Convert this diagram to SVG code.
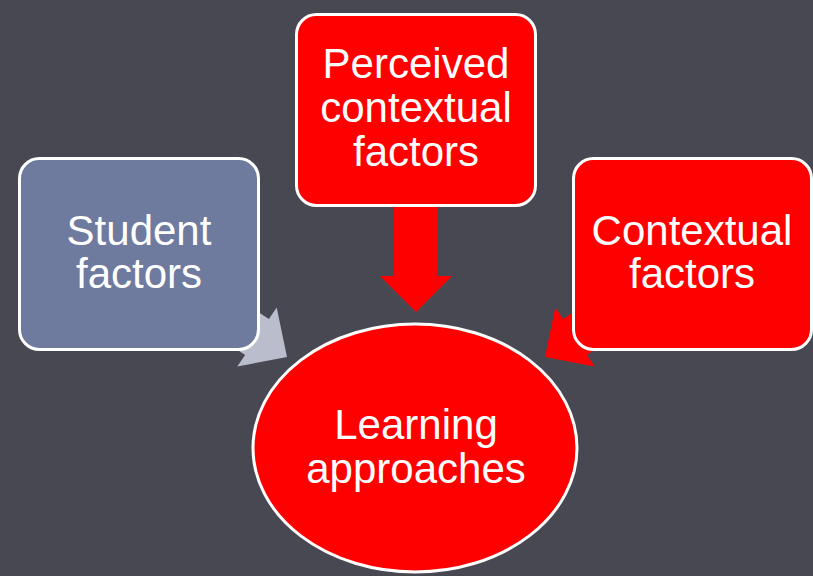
<svg xmlns="http://www.w3.org/2000/svg" width="813" height="576" viewBox="0 0 813 576">
<style>
.box{stroke:#ffffff;stroke-width:3}
.red{fill:#ff0000}
.blue{fill:#6f7a9f}
.lbl{font-family:"Liberation Sans",Arial,sans-serif;font-size:42px;fill:#ffffff;text-anchor:middle}
</style>
<rect width="813" height="576" fill="#474852"/>
<g id="connectors">
<polygon fill="#b9bdcc" points="161.9,299.4 185.7,263.6 268.9,319.1 276.7,307.5 287,357 237.3,366.5 245.1,354.9"/>
<polygon fill="#ff0000" points="394,200 437,200 437,276 452,276 416,312 380,276 394,276"/>
<polygon fill="#ff0000" points="670.1,299.4 646.3,263.6 563.1,319.1 555.3,307.5 545,357 594.7,366.5 586.9,354.9"/>
</g>
<g id="student">
<rect class="box blue" x="19.5" y="158.5" width="239" height="191" rx="20"/>
<text class="lbl" x="139" y="245">Student</text>
<text class="lbl" x="139" y="288">factors</text>
</g>
<g id="perceived">
<rect class="box red" x="296.5" y="14.5" width="239" height="191" rx="20"/>
<text class="lbl" x="416" y="78">Perceived</text>
<text class="lbl" x="416" y="122">contextual</text>
<text class="lbl" x="416" y="166">factors</text>
</g>
<g id="contextual">
<rect class="box red" x="573.5" y="158.5" width="238" height="191" rx="20"/>
<text class="lbl" x="692" y="245">Contextual</text>
<text class="lbl" x="692" y="288">factors</text>
</g>
<g id="learning">
<ellipse class="box red" cx="415" cy="448" rx="162" ry="124"/>
<text class="lbl" x="416" y="439">Learning</text>
<text class="lbl" x="416" y="483">approaches</text>
</g>
</svg>
